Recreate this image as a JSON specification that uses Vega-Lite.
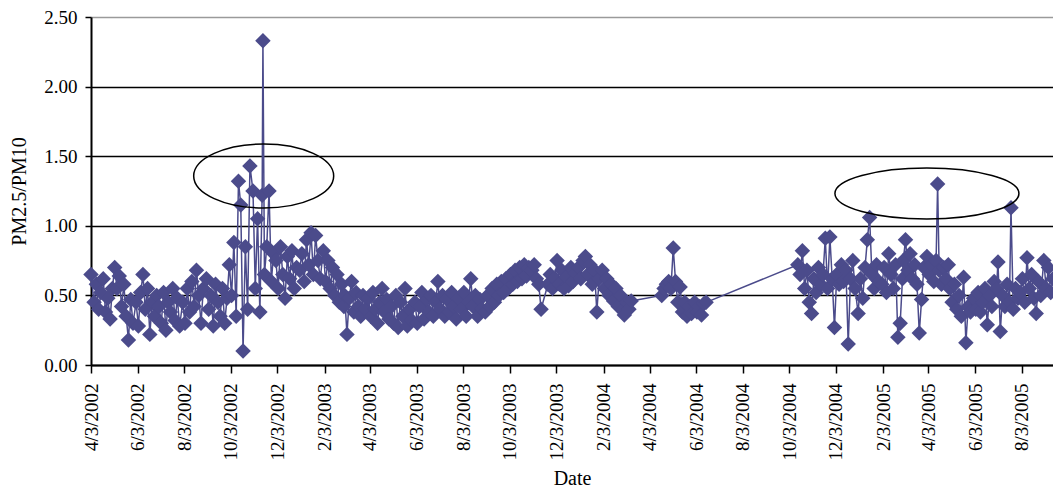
{
  "$schema": "https://vega.github.io/schema/vega-lite/v6.json",
  "width": 962,
  "height": 348,
  "autosize": {"type": "none"},
  "padding": {"left": 91, "top": 17, "right": 0, "bottom": 128},
  "background": "#ffffff",
  "config": {"view": {"stroke": null}, "font": "Liberation Serif"},
  "datasets": {
    "series": [
      {"date":"2002-04-03","ratio":0.65},{"date":"2002-04-07","ratio":0.45},{"date":"2002-04-10","ratio":0.58},{"date":"2002-04-13","ratio":0.40},{"date":"2002-04-16","ratio":0.52},{"date":"2002-04-19","ratio":0.62},{"date":"2002-04-22","ratio":0.38},{"date":"2002-04-25","ratio":0.48},{"date":"2002-04-28","ratio":0.33},
      {"date":"2002-05-01","ratio":0.55},{"date":"2002-05-04","ratio":0.70},{"date":"2002-05-07","ratio":0.55},{"date":"2002-05-10","ratio":0.64},{"date":"2002-05-13","ratio":0.42},{"date":"2002-05-16","ratio":0.58},{"date":"2002-05-19","ratio":0.35},{"date":"2002-05-22","ratio":0.18},{"date":"2002-05-25","ratio":0.47},{"date":"2002-05-28","ratio":0.30},
      {"date":"2002-06-01","ratio":0.45},{"date":"2002-06-04","ratio":0.28},{"date":"2002-06-07","ratio":0.52},{"date":"2002-06-10","ratio":0.65},{"date":"2002-06-13","ratio":0.40},{"date":"2002-06-16","ratio":0.55},{"date":"2002-06-19","ratio":0.22},{"date":"2002-06-22","ratio":0.45},{"date":"2002-06-25","ratio":0.35},{"date":"2002-06-28","ratio":0.50},
      {"date":"2002-07-01","ratio":0.42},{"date":"2002-07-04","ratio":0.30},{"date":"2002-07-07","ratio":0.52},{"date":"2002-07-10","ratio":0.25},{"date":"2002-07-13","ratio":0.45},{"date":"2002-07-16","ratio":0.38},{"date":"2002-07-19","ratio":0.55},{"date":"2002-07-22","ratio":0.32},{"date":"2002-07-25","ratio":0.48},{"date":"2002-07-28","ratio":0.28},
      {"date":"2002-08-01","ratio":0.45},{"date":"2002-08-04","ratio":0.30},{"date":"2002-08-07","ratio":0.55},{"date":"2002-08-10","ratio":0.38},{"date":"2002-08-13","ratio":0.60},{"date":"2002-08-16","ratio":0.42},{"date":"2002-08-19","ratio":0.68},{"date":"2002-08-22","ratio":0.50},{"date":"2002-08-25","ratio":0.30},{"date":"2002-08-28","ratio":0.55},
      {"date":"2002-09-01","ratio":0.62},{"date":"2002-09-04","ratio":0.40},{"date":"2002-09-07","ratio":0.50},{"date":"2002-09-10","ratio":0.28},{"date":"2002-09-13","ratio":0.58},{"date":"2002-09-16","ratio":0.45},{"date":"2002-09-19","ratio":0.35},{"date":"2002-09-22","ratio":0.55},{"date":"2002-09-25","ratio":0.30},{"date":"2002-09-28","ratio":0.48},
      {"date":"2002-10-01","ratio":0.72},{"date":"2002-10-04","ratio":0.50},{"date":"2002-10-07","ratio":0.88},{"date":"2002-10-10","ratio":0.35},{"date":"2002-10-13","ratio":1.32},{"date":"2002-10-16","ratio":1.15},{"date":"2002-10-19","ratio":0.10},{"date":"2002-10-22","ratio":0.85},{"date":"2002-10-25","ratio":0.40},{"date":"2002-10-28","ratio":1.43},
      {"date":"2002-11-01","ratio":1.25},{"date":"2002-11-04","ratio":0.55},{"date":"2002-11-07","ratio":1.05},{"date":"2002-11-10","ratio":0.38},{"date":"2002-11-13","ratio":1.22},{"date":"2002-11-14","ratio":2.33},{"date":"2002-11-16","ratio":0.65},{"date":"2002-11-19","ratio":0.85},{"date":"2002-11-22","ratio":1.25},{"date":"2002-11-25","ratio":0.60},{"date":"2002-11-28","ratio":0.80},
      {"date":"2002-12-01","ratio":0.75},{"date":"2002-12-04","ratio":0.55},{"date":"2002-12-07","ratio":0.85},{"date":"2002-12-10","ratio":0.65},{"date":"2002-12-13","ratio":0.48},{"date":"2002-12-16","ratio":0.78},{"date":"2002-12-19","ratio":0.62},{"date":"2002-12-22","ratio":0.82},{"date":"2002-12-25","ratio":0.55},{"date":"2002-12-28","ratio":0.70},
      {"date":"2003-01-01","ratio":0.68},{"date":"2003-01-04","ratio":0.80},{"date":"2003-01-07","ratio":0.60},{"date":"2003-01-10","ratio":0.90},{"date":"2003-01-13","ratio":0.72},{"date":"2003-01-16","ratio":0.95},{"date":"2003-01-19","ratio":0.65},{"date":"2003-01-22","ratio":0.93},{"date":"2003-01-25","ratio":0.75},{"date":"2003-01-28","ratio":0.62},
      {"date":"2003-02-01","ratio":0.82},{"date":"2003-02-04","ratio":0.60},{"date":"2003-02-07","ratio":0.75},{"date":"2003-02-10","ratio":0.55},{"date":"2003-02-13","ratio":0.70},{"date":"2003-02-16","ratio":0.50},{"date":"2003-02-19","ratio":0.65},{"date":"2003-02-22","ratio":0.45},{"date":"2003-02-25","ratio":0.58},{"date":"2003-02-28","ratio":0.42},
      {"date":"2003-03-01","ratio":0.50},{"date":"2003-03-04","ratio":0.22},{"date":"2003-03-07","ratio":0.48},{"date":"2003-03-10","ratio":0.60},{"date":"2003-03-13","ratio":0.38},{"date":"2003-03-16","ratio":0.52},{"date":"2003-03-19","ratio":0.42},{"date":"2003-03-22","ratio":0.35},{"date":"2003-03-25","ratio":0.50},{"date":"2003-03-28","ratio":0.40},
      {"date":"2003-04-01","ratio":0.48},{"date":"2003-04-04","ratio":0.35},{"date":"2003-04-07","ratio":0.52},{"date":"2003-04-10","ratio":0.40},{"date":"2003-04-13","ratio":0.30},{"date":"2003-04-16","ratio":0.45},{"date":"2003-04-19","ratio":0.55},{"date":"2003-04-22","ratio":0.38},{"date":"2003-04-25","ratio":0.47},{"date":"2003-04-28","ratio":0.33},
      {"date":"2003-05-01","ratio":0.42},{"date":"2003-05-04","ratio":0.30},{"date":"2003-05-07","ratio":0.50},{"date":"2003-05-10","ratio":0.27},{"date":"2003-05-13","ratio":0.45},{"date":"2003-05-16","ratio":0.35},{"date":"2003-05-19","ratio":0.55},{"date":"2003-05-22","ratio":0.28},{"date":"2003-05-25","ratio":0.40},{"date":"2003-05-28","ratio":0.32},
      {"date":"2003-06-01","ratio":0.45},{"date":"2003-06-04","ratio":0.30},{"date":"2003-06-07","ratio":0.42},{"date":"2003-06-10","ratio":0.52},{"date":"2003-06-13","ratio":0.33},{"date":"2003-06-16","ratio":0.47},{"date":"2003-06-19","ratio":0.38},{"date":"2003-06-22","ratio":0.50},{"date":"2003-06-25","ratio":0.35},{"date":"2003-06-28","ratio":0.45},
      {"date":"2003-07-01","ratio":0.60},{"date":"2003-07-04","ratio":0.40},{"date":"2003-07-07","ratio":0.50},{"date":"2003-07-10","ratio":0.35},{"date":"2003-07-13","ratio":0.47},{"date":"2003-07-16","ratio":0.38},{"date":"2003-07-19","ratio":0.52},{"date":"2003-07-22","ratio":0.42},{"date":"2003-07-25","ratio":0.33},{"date":"2003-07-28","ratio":0.48},
      {"date":"2003-08-01","ratio":0.40},{"date":"2003-08-04","ratio":0.52},{"date":"2003-08-07","ratio":0.35},{"date":"2003-08-10","ratio":0.45},{"date":"2003-08-13","ratio":0.62},{"date":"2003-08-16","ratio":0.42},{"date":"2003-08-19","ratio":0.50},{"date":"2003-08-22","ratio":0.35},{"date":"2003-08-25","ratio":0.47},{"date":"2003-08-28","ratio":0.40},
      {"date":"2003-09-01","ratio":0.38},{"date":"2003-09-04","ratio":0.50},{"date":"2003-09-07","ratio":0.42},{"date":"2003-09-10","ratio":0.55},{"date":"2003-09-13","ratio":0.45},{"date":"2003-09-16","ratio":0.58},{"date":"2003-09-19","ratio":0.50},{"date":"2003-09-22","ratio":0.60},{"date":"2003-09-25","ratio":0.52},{"date":"2003-09-28","ratio":0.62},
      {"date":"2003-10-01","ratio":0.55},{"date":"2003-10-04","ratio":0.65},{"date":"2003-10-07","ratio":0.58},{"date":"2003-10-10","ratio":0.68},{"date":"2003-10-13","ratio":0.60},{"date":"2003-10-16","ratio":0.70},{"date":"2003-10-19","ratio":0.62},{"date":"2003-10-22","ratio":0.72},{"date":"2003-10-25","ratio":0.64},{"date":"2003-10-28","ratio":0.70},
      {"date":"2003-11-01","ratio":0.68},{"date":"2003-11-04","ratio":0.72},{"date":"2003-11-07","ratio":0.62},{"date":"2003-11-10","ratio":0.58},{"date":"2003-11-13","ratio":0.40},{"date":"2003-11-22","ratio":0.58},{"date":"2003-11-25","ratio":0.65},{"date":"2003-11-28","ratio":0.55},
      {"date":"2003-12-01","ratio":0.62},{"date":"2003-12-04","ratio":0.75},{"date":"2003-12-07","ratio":0.58},{"date":"2003-12-10","ratio":0.68},{"date":"2003-12-13","ratio":0.55},{"date":"2003-12-16","ratio":0.63},{"date":"2003-12-19","ratio":0.57},{"date":"2003-12-22","ratio":0.70},{"date":"2003-12-25","ratio":0.60},{"date":"2003-12-28","ratio":0.66},
      {"date":"2004-01-01","ratio":0.70},{"date":"2004-01-04","ratio":0.62},{"date":"2004-01-07","ratio":0.75},{"date":"2004-01-10","ratio":0.78},{"date":"2004-01-13","ratio":0.65},{"date":"2004-01-16","ratio":0.72},{"date":"2004-01-19","ratio":0.58},{"date":"2004-01-22","ratio":0.68},{"date":"2004-01-25","ratio":0.38},{"date":"2004-01-28","ratio":0.62},
      {"date":"2004-02-01","ratio":0.68},{"date":"2004-02-04","ratio":0.55},{"date":"2004-02-07","ratio":0.62},{"date":"2004-02-10","ratio":0.50},{"date":"2004-02-13","ratio":0.58},{"date":"2004-02-16","ratio":0.46},{"date":"2004-02-19","ratio":0.55},{"date":"2004-02-22","ratio":0.42},{"date":"2004-02-25","ratio":0.50},{"date":"2004-02-28","ratio":0.40},
      {"date":"2004-03-01","ratio":0.36},{"date":"2004-03-04","ratio":0.45},{"date":"2004-03-07","ratio":0.40},{"date":"2004-03-10","ratio":0.46},
      {"date":"2004-04-19","ratio":0.50},{"date":"2004-04-22","ratio":0.55},{"date":"2004-04-25","ratio":0.58},{"date":"2004-04-28","ratio":0.60},
      {"date":"2004-05-01","ratio":0.55},{"date":"2004-05-04","ratio":0.84},{"date":"2004-05-07","ratio":0.60},{"date":"2004-05-10","ratio":0.45},{"date":"2004-05-13","ratio":0.56},{"date":"2004-05-16","ratio":0.38},{"date":"2004-05-19","ratio":0.45},{"date":"2004-05-22","ratio":0.35},{"date":"2004-05-25","ratio":0.42},{"date":"2004-05-28","ratio":0.37},
      {"date":"2004-06-01","ratio":0.45},{"date":"2004-06-04","ratio":0.38},{"date":"2004-06-07","ratio":0.42},{"date":"2004-06-10","ratio":0.36},{"date":"2004-06-13","ratio":0.44},{"date":"2004-06-16","ratio":0.45},
      {"date":"2004-10-14","ratio":0.72},{"date":"2004-10-17","ratio":0.65},{"date":"2004-10-20","ratio":0.82},{"date":"2004-10-23","ratio":0.55},{"date":"2004-10-26","ratio":0.68},{"date":"2004-10-29","ratio":0.45},
      {"date":"2004-11-01","ratio":0.37},{"date":"2004-11-04","ratio":0.62},{"date":"2004-11-07","ratio":0.52},{"date":"2004-11-10","ratio":0.70},{"date":"2004-11-13","ratio":0.58},{"date":"2004-11-16","ratio":0.65},{"date":"2004-11-19","ratio":0.91},{"date":"2004-11-22","ratio":0.55},{"date":"2004-11-25","ratio":0.92},{"date":"2004-11-28","ratio":0.62},
      {"date":"2004-12-01","ratio":0.27},{"date":"2004-12-04","ratio":0.65},{"date":"2004-12-07","ratio":0.58},{"date":"2004-12-10","ratio":0.72},{"date":"2004-12-13","ratio":0.60},{"date":"2004-12-16","ratio":0.68},{"date":"2004-12-19","ratio":0.15},{"date":"2004-12-22","ratio":0.62},{"date":"2004-12-25","ratio":0.75},{"date":"2004-12-28","ratio":0.55},
      {"date":"2005-01-01","ratio":0.37},{"date":"2005-01-04","ratio":0.62},{"date":"2005-01-07","ratio":0.48},{"date":"2005-01-10","ratio":0.70},{"date":"2005-01-13","ratio":0.90},{"date":"2005-01-16","ratio":1.06},{"date":"2005-01-19","ratio":0.65},{"date":"2005-01-22","ratio":0.55},{"date":"2005-01-25","ratio":0.72},{"date":"2005-01-28","ratio":0.60},
      {"date":"2005-02-01","ratio":0.58},{"date":"2005-02-04","ratio":0.70},{"date":"2005-02-07","ratio":0.52},{"date":"2005-02-10","ratio":0.80},{"date":"2005-02-13","ratio":0.65},{"date":"2005-02-16","ratio":0.55},{"date":"2005-02-19","ratio":0.72},{"date":"2005-02-22","ratio":0.20},{"date":"2005-02-25","ratio":0.30},{"date":"2005-02-28","ratio":0.62},
      {"date":"2005-03-01","ratio":0.75},{"date":"2005-03-04","ratio":0.90},{"date":"2005-03-07","ratio":0.68},{"date":"2005-03-10","ratio":0.80},{"date":"2005-03-13","ratio":0.62},{"date":"2005-03-16","ratio":0.72},{"date":"2005-03-19","ratio":0.58},{"date":"2005-03-22","ratio":0.23},{"date":"2005-03-25","ratio":0.47},{"date":"2005-03-28","ratio":0.70},
      {"date":"2005-04-01","ratio":0.78},{"date":"2005-04-04","ratio":0.65},{"date":"2005-04-07","ratio":0.72},{"date":"2005-04-10","ratio":0.60},{"date":"2005-04-13","ratio":0.75},{"date":"2005-04-15","ratio":1.30},{"date":"2005-04-17","ratio":0.68},{"date":"2005-04-20","ratio":0.58},{"date":"2005-04-23","ratio":0.70},{"date":"2005-04-26","ratio":0.62},{"date":"2005-04-29","ratio":0.72},
      {"date":"2005-05-01","ratio":0.55},{"date":"2005-05-04","ratio":0.45},{"date":"2005-05-07","ratio":0.58},{"date":"2005-05-10","ratio":0.40},{"date":"2005-05-13","ratio":0.50},{"date":"2005-05-16","ratio":0.35},{"date":"2005-05-19","ratio":0.63},{"date":"2005-05-22","ratio":0.16},{"date":"2005-05-25","ratio":0.42},{"date":"2005-05-28","ratio":0.38},
      {"date":"2005-06-01","ratio":0.48},{"date":"2005-06-04","ratio":0.40},{"date":"2005-06-07","ratio":0.52},{"date":"2005-06-10","ratio":0.38},{"date":"2005-06-13","ratio":0.45},{"date":"2005-06-16","ratio":0.55},{"date":"2005-06-19","ratio":0.29},{"date":"2005-06-22","ratio":0.50},{"date":"2005-06-25","ratio":0.42},{"date":"2005-06-28","ratio":0.60},
      {"date":"2005-07-01","ratio":0.55},{"date":"2005-07-03","ratio":0.74},{"date":"2005-07-06","ratio":0.24},{"date":"2005-07-09","ratio":0.50},{"date":"2005-07-12","ratio":0.42},{"date":"2005-07-15","ratio":0.58},{"date":"2005-07-18","ratio":0.45},{"date":"2005-07-20","ratio":1.13},{"date":"2005-07-23","ratio":0.40},{"date":"2005-07-26","ratio":0.55},{"date":"2005-07-29","ratio":0.48},
      {"date":"2005-08-01","ratio":0.52},{"date":"2005-08-04","ratio":0.62},{"date":"2005-08-07","ratio":0.45},{"date":"2005-08-10","ratio":0.77},{"date":"2005-08-13","ratio":0.55},{"date":"2005-08-16","ratio":0.65},{"date":"2005-08-19","ratio":0.48},{"date":"2005-08-22","ratio":0.37},{"date":"2005-08-25","ratio":0.60},{"date":"2005-08-28","ratio":0.50},
      {"date":"2005-09-01","ratio":0.75},{"date":"2005-09-04","ratio":0.55},{"date":"2005-09-07","ratio":0.70},{"date":"2005-09-10","ratio":0.52},{"date":"2005-09-13","ratio":0.62}
    ],
    "ring1": [{"date": "2002-11-15", "ratio": 1.358}],
    "ring2": [{"date": "2005-04-01", "ratio": 1.232}]
  },
  "encoding": {
    "x": {
      "field": "date",
      "type": "temporal",
      "scale": {
        "type": "utc",
        "domain": [
          {"year": 2002, "month": 4, "date": 3, "utc": true},
          {"year": 2005, "month": 9, "date": 13, "utc": true}
        ]
      },
      "axis": {
        "title": "Date",
        "values": [
          {"year": 2002, "month": 4, "date": 3, "utc": true},
          {"year": 2002, "month": 6, "date": 3, "utc": true},
          {"year": 2002, "month": 8, "date": 3, "utc": true},
          {"year": 2002, "month": 10, "date": 3, "utc": true},
          {"year": 2002, "month": 12, "date": 3, "utc": true},
          {"year": 2003, "month": 2, "date": 3, "utc": true},
          {"year": 2003, "month": 4, "date": 3, "utc": true},
          {"year": 2003, "month": 6, "date": 3, "utc": true},
          {"year": 2003, "month": 8, "date": 3, "utc": true},
          {"year": 2003, "month": 10, "date": 3, "utc": true},
          {"year": 2003, "month": 12, "date": 3, "utc": true},
          {"year": 2004, "month": 2, "date": 3, "utc": true},
          {"year": 2004, "month": 4, "date": 3, "utc": true},
          {"year": 2004, "month": 6, "date": 3, "utc": true},
          {"year": 2004, "month": 8, "date": 3, "utc": true},
          {"year": 2004, "month": 10, "date": 3, "utc": true},
          {"year": 2004, "month": 12, "date": 3, "utc": true},
          {"year": 2005, "month": 2, "date": 3, "utc": true},
          {"year": 2005, "month": 4, "date": 3, "utc": true},
          {"year": 2005, "month": 6, "date": 3, "utc": true},
          {"year": 2005, "month": 8, "date": 3, "utc": true}
        ],
        "labelExpr": "utcFormat(datum.value, '%-m/%-d/%Y')",
        "labelAngle": 270,
        "labelFontSize": 19,
        "labelColor": "#000000",
        "labelPadding": 10,
        "labelOverlap": false,
        "labelFlush": false,
        "tickSize": 8,
        "tickColor": "#000000",
        "tickWidth": 1.5,
        "domainColor": "#000000",
        "domainWidth": 2,
        "grid": false,
        "titleFontSize": 20,
        "titleFontWeight": "normal",
        "titleColor": "#000000",
        "titlePadding": 8
      }
    },
    "y": {
      "field": "ratio",
      "type": "quantitative",
      "scale": {"domain": [0, 2.5], "nice": false},
      "axis": {
        "title": "PM2.5/PM10",
        "values": [0, 0.5, 1, 1.5, 2, 2.5],
        "format": ".2f",
        "labelFontSize": 19,
        "labelColor": "#000000",
        "labelPadding": 8,
        "tickSize": 6,
        "tickColor": "#000000",
        "tickWidth": 1.5,
        "domainColor": "#000000",
        "domainWidth": 2,
        "grid": true,
        "gridColor": {"condition": {"test": "datum.value === 2.5", "value": "#9a9a9a"}, "value": "#000000"},
        "gridWidth": 1.4,
        "gridOpacity": 1,
        "titleFontSize": 20,
        "titleFontWeight": "normal",
        "titleColor": "#000000",
        "titlePadding": 14
      }
    }
  },
  "layer": [
    {
      "data": {"name": "series"},
      "mark": {"type": "line", "color": "#4B4B8B", "strokeWidth": 1.5}
    },
    {
      "data": {"name": "series"},
      "mark": {"type": "point", "shape": "diamond", "filled": true, "size": 240, "color": "#4B4B8B", "opacity": 1}
    },
    {
      "data": {"name": "ring1"},
      "mark": {"type": "point", "shape": "M -1 0 A 1 0.457 0 1 0 1 0 A 1 0.457 0 1 0 -1 0 Z", "filled": false, "size": 19600, "color": "#000000", "strokeWidth": 1.5, "opacity": 1}
    },
    {
      "data": {"name": "ring2"},
      "mark": {"type": "point", "shape": "M -1 0 A 1 0.277 0 1 0 1 0 A 1 0.277 0 1 0 -1 0 Z", "filled": false, "size": 33856, "color": "#000000", "strokeWidth": 1.5, "opacity": 1}
    }
  ]
}
